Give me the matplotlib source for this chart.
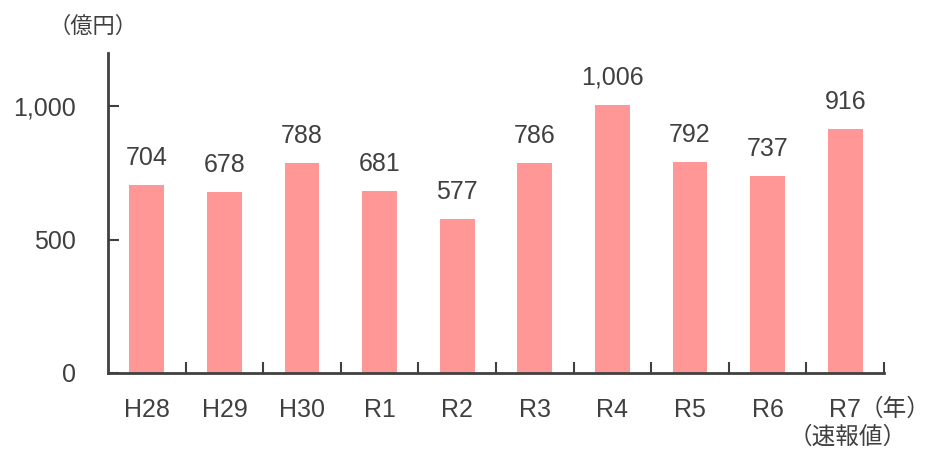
import matplotlib.pyplot as plt

# data
years = ['H28', 'H29', 'H30', 'R1', 'R2', 'R3', 'R4', 'R5', 'R6', 'R7']
values = [704, 678, 788, 681, 577, 786, 1006, 792, 737, 916]
yticks = [0, 500, 1000]
ytick_labels = ['0', '500', '1,000']

plt.rcParams['font.family'] = ['Liberation Sans', 'Noto Sans CJK JP']

txt = '#404040'
bar_color = '#FF9797'
fs = 18

fig = plt.figure(figsize=(9.3, 4.53), dpi=100)
ax = fig.add_axes([108 / 930, 1 - 373 / 453, 776 / 930, 320 / 453])

x = list(range(len(years)))
ax.bar(x, values, width=0.45, color=bar_color, zorder=2)

# value labels above bars
for xi, v in zip(x, values):
    ax.annotate(f'{v:,}', (xi, v), xytext=(0, 19.5), textcoords='offset points',
                ha='center', va='center', fontsize=fs, color=txt)

ax.set_xlim(-0.5, len(years) - 0.5)
ax.set_ylim(0, 1200)

ax.set_yticks(yticks)
ax.set_yticklabels(ytick_labels)
ax.set_xticks([i + 0.5 for i in x])
ax.set_xticklabels([])
ax.tick_params(axis='both', direction='in', length=8, width=1.5, color=txt,
               labelsize=fs, labelcolor=txt)
ax.tick_params(axis='y', pad=23)

for xi, lab in zip(x, years):
    ax.text(xi, -0.115, lab, transform=ax.get_xaxis_transform(),
            ha='center', va='center', fontsize=fs, color=txt)

for s in ['top', 'right']:
    ax.spines[s].set_visible(False)
for s in ['left', 'bottom']:
    ax.spines[s].set_color(txt)
    ax.spines[s].set_linewidth(2)

fig.text(93 / 930, 1 - 27 / 453, '（億円）', ha='center', va='center',
         fontsize=16, color=txt)
fig.text(895 / 930, 1 - 410 / 453, '（年）', ha='center', va='center',
         fontsize=17, color=txt)
fig.text(848 / 930, 1 - 438 / 453, '（速報値）', ha='center', va='center',
         fontsize=17, color=txt)

fig.savefig('out.png', dpi=100)
